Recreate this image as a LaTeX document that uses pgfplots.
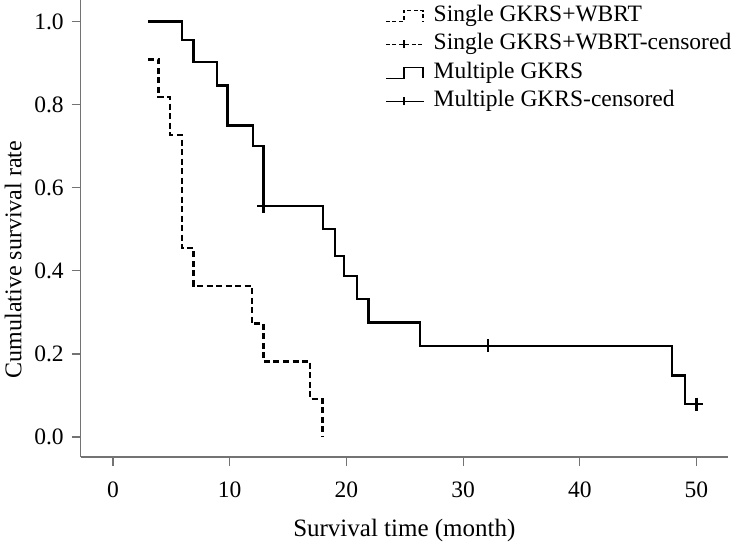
\documentclass[border=0pt]{standalone}
\usepackage{pgfplots}
\pgfplotsset{compat=1.18}
\usepackage{fontspec}
\setmainfont{Liberation Serif}
\pgfplotsset{
 steplegend/.style={legend image code/.code={\draw[##1] (0pt,-5.5pt)--(18pt,-5.5pt)--(18pt,5.5pt)--(37pt,5.5pt)--(37pt,-5.5pt);}},
 censlegend/.style={legend image code/.code={\draw[##1] (0pt,0pt)--(38pt,0pt); \draw[##1,solid] (18pt,-4pt)--(18pt,4pt);}},
}
\begin{document}
\fontsize{23.5}{28}\selectfont
\begin{tikzpicture}[x=1pt,y=1pt]
\begin{axis}[
 at={(0,0)}, anchor=south west,
 width=647.3pt, height=457pt, scale only axis,
 xmin=-2.77, xmax=52.7, ymin=-0.048, ymax=1.052,
 axis x line*=bottom, axis y line*=left,
 axis line style={black!55, line width=1.2pt},
 xtick={0,10,20,30,40,50}, ytick={0,0.2,0.4,0.6,0.8,1.0},
 yticklabel style={/pgf/number format/fixed, /pgf/number format/fixed zerofill, /pgf/number format/precision=1},
 tick align=outside, major tick length=9pt, tick style={black!55, line width=1.2pt},
 /pgf/number format/assume math mode=true,
 xticklabel style={yshift=-8pt},
 xlabel={Survival time (month)}, ylabel={Cumulative survival rate},
 xlabel style={at={(axis description cs:0.5,-0.1729)}, anchor=base, font=\fontsize{25}{30}\selectfont},
 ylabel style={at={(axis description cs:-0.0915,0.432)}, anchor=base, font=\fontsize{24}{29}\selectfont},
 legend style={draw=none, fill=none, at={(axis description cs:0.4701,0.993)}, anchor=north west, inner sep=0pt, row sep=3.5pt, column sep=7pt, nodes={inner sep=2pt, text height=16pt, text depth=5pt}, cells={anchor=west}},
]
\addlegendimage{steplegend, black, line width=1.5pt, dash pattern=on 4pt off 2.5pt}
\addlegendentry{Single GKRS+WBRT}
\addlegendimage{censlegend, black, line width=1.3pt, dash pattern=on 4pt off 2.5pt}
\addlegendentry{Single GKRS+WBRT-censored}
\addlegendimage{steplegend, black, line width=1.5pt}
\addlegendentry{Multiple GKRS}
\addlegendimage{censlegend, black, line width=1.5pt}
\addlegendentry{Multiple GKRS-censored}
% Single GKRS+WBRT
\addplot[const plot, black, line width=2.3pt, dash pattern=on 6pt off 3.5pt, forget plot] coordinates {
 (3,0.909) (3.9,0.818) (4.9,0.727) (5.9,0.455) (6.9,0.364) (11.9,0.273) (12.9,0.182) (16.9,0.091) (17.95,0)
};
% Multiple GKRS
\addplot[const plot, black, line width=2.3pt, forget plot] coordinates {
 (3,1.0) (5.9,0.956) (6.9,0.902) (8.9,0.846) (9.8,0.75) (12.0,0.70) (12.9,0.556) (18.0,0.50) (19.0,0.436) (19.8,0.388) (20.9,0.332) (21.9,0.276) (26.3,0.22) (47.9,0.148) (49.0,0.079) (50.0,0.079)
};
\addplot[only marks, mark=+, mark size=6.5pt, black, line width=2.2pt, forget plot] coordinates {
 (12.9,0.556) (32.1,0.22) (50.0,0.079)
};
\end{axis}
\pgfresetboundingbox
\path[use as bounding box] (-80.7,-87) rectangle (665.3,457);
\end{tikzpicture}
\end{document}
